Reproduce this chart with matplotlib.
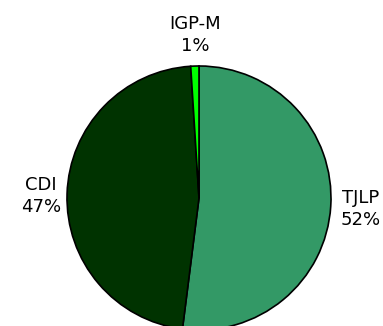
import matplotlib
matplotlib.use("Agg")
import matplotlib.pyplot as plt

# -----------------------------
# DATA
# -----------------------------
labels = ["TJLP", "CDI", "IGP-M"]
shares = [52, 47, 1]
colors = ["#339966", "#003300", "#00FF00"]

# label anchor points (pixel space, y measured from bottom)
label_pos = [(361, 117), (41, 130), (195, 291)]

fig = plt.figure(figsize=(3.83, 3.26), dpi=100)
ax = fig.add_axes([0, 0, 1, 1])
ax.set_xlim(0, 383)
ax.set_ylim(0, 326)
ax.set_aspect("equal")
ax.axis("off")

ax.pie(shares, colors=colors, startangle=90, counterclock=False,
       center=(199, 128), radius=132, frame=True,
       wedgeprops=dict(edgecolor="black", linewidth=1.2))
ax.set_xlim(0, 383)
ax.set_ylim(0, 326)
ax.axis("off")

for name, val, (x, y) in zip(labels, shares, label_pos):
    ax.text(x, y, f"{name}\n{val}%", ha="center", va="center",
            fontsize=13, family="DejaVu Sans", linespacing=1.35)

fig.savefig("out.png", dpi=100)
